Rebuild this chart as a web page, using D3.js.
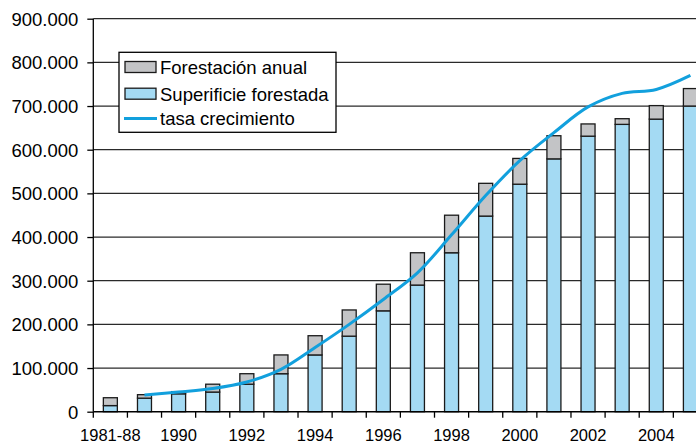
<!DOCTYPE html>
<html><head><meta charset="utf-8">
<script src="https://cdn.jsdelivr.net/npm/d3@7"></script>
<style>body{margin:0;background:#fff}svg{display:block}text{font-family:"Liberation Sans",Arial,sans-serif;fill:#000}</style>
</head><body>
<script>
const categories = ["1981-88","1989","1990","1991","1992","1993","1994","1995","1996","1997","1998","1999","2000","2001","2002","2003","2004","2005"];
const superficie = [14000,31000,41000,45000,63000,87000,130000,173000,231000,290000,364000,448000,521000,579000,631000,658000,670000,700000];
const forestacion = [18000,8000,5000,18000,24000,43000,44000,60000,61000,74000,86000,75000,59000,53000,28000,13000,31000,40000];
const tasa = [null,38000,45000,53000,68000,97000,147000,200000,257000,318000,405000,495000,575000,639000,698000,729000,738000,770000];
const yTicks = [0,100000,200000,300000,400000,500000,600000,700000,800000,900000];
const xLabels = ["1981-88","1990","1992","1994","1996","1998","2000","2002","2004"];

(function(){
const W=696,H=444;
const mLeft=93.3, mBottom=411.7, mTop=18.7, step=34.12;
const svg=d3.select("body").append("svg").attr("width",W).attr("height",H);
const x=d3.scaleBand().domain(categories).range([mLeft,mLeft+step*categories.length]).padding(0);
const y=d3.scaleLinear().domain([0,900000]).range([mBottom,mTop]);
const fmt=v=>v===0?"0":d3.format(",")(v).replace(/,/g,".");

// gridlines
svg.append("g").selectAll("line").data(yTicks.filter(d=>d>0)).join("line")
  .attr("x1",mLeft).attr("x2",W).attr("y1",d=>y(d)).attr("y2",d=>y(d))
  .attr("stroke","#2a2a2a").attr("stroke-width",1.3);

// y axis
const ya=svg.append("g").attr("transform",`translate(${mLeft},0)`)
  .call(d3.axisLeft(y).tickValues(yTicks).tickSize(6).tickPadding(9).tickFormat(fmt));
ya.select(".domain").remove();
ya.selectAll(".tick line").attr("stroke","#000").attr("stroke-width",1.3);
ya.selectAll("text").style("font-size","18.5px").attr("fill","#000").attr("dy","0.35em");

// bars
const bw=14;
const bars=svg.append("g");
bars.selectAll("rect.s").data(categories).join("rect").attr("class","s")
  .attr("x",(d)=>x(d)+(x.bandwidth()-bw)/2).attr("width",bw)
  .attr("y",(d,i)=>y(superficie[i])).attr("height",(d,i)=>y(0)-y(superficie[i]))
  .attr("fill","#a4daf3").attr("stroke","#1a1a1a").attr("stroke-width",1.3);
bars.selectAll("rect.f").data(categories).join("rect").attr("class","f")
  .attr("x",(d)=>x(d)+(x.bandwidth()-bw)/2).attr("width",bw)
  .attr("y",(d,i)=>y(superficie[i]+forestacion[i])).attr("height",(d,i)=>y(superficie[i])-y(superficie[i]+forestacion[i]))
  .attr("fill","#c3c4c6").attr("stroke","#1a1a1a").attr("stroke-width",1.3);

// line
const line=d3.line().defined(d=>d.v!==null).x(d=>x(d.c)+x.bandwidth()/2).y(d=>y(d.v)).curve(d3.curveCatmullRom.alpha(0.5));
svg.append("path").datum(categories.map((c,i)=>({c,v:tasa[i]})))
  .attr("d",line).attr("fill","none").attr("stroke","#12a0dd").attr("stroke-width",3);

// y axis line
svg.append("line").attr("x1",mLeft).attr("x2",mLeft).attr("y1",mTop).attr("y2",mBottom).attr("stroke","#000").attr("stroke-width",1.3);

// x axis
svg.append("line").attr("x1",mLeft).attr("x2",W).attr("y1",mBottom).attr("y2",mBottom).attr("stroke","#000").attr("stroke-width",1.5);
svg.append("g").selectAll("line").data(categories).join("line")
  .attr("x1",d=>x(d)).attr("x2",d=>x(d)).attr("y1",mBottom).attr("y2",mBottom+6)
  .attr("stroke","#000").attr("stroke-width",1.3);
svg.append("g").selectAll("text").data(xLabels).join("text")
  .attr("x",d=>x(d)+x.bandwidth()/2).attr("y",440.5)
  .attr("text-anchor","middle").style("font-size","16.5px").text(d=>d);

// legend
const lg=svg.append("g");
lg.append("rect").attr("x",119).attr("y",52.3).attr("width",217).attr("height",80)
  .attr("fill","#fff").attr("stroke","#000").attr("stroke-width",1.3);
const items=[{t:"Forestación anual",type:"rect",fill:"#c3c4c6",y:67},{t:"Superificie forestada",type:"rect",fill:"#a4daf3",y:93.7},{t:"tasa crecimiento",type:"line",y:118.5}];
items.forEach(it=>{
  if(it.type==="rect"){
    lg.append("rect").attr("x",125).attr("y",it.y-5.5).attr("width",31).attr("height",11)
      .attr("fill",it.fill).attr("stroke","#1a1a1a").attr("stroke-width",1.3);
  } else {
    lg.append("line").attr("x1",124).attr("x2",157).attr("y1",it.y).attr("y2",it.y)
      .attr("stroke","#12a0dd").attr("stroke-width",3);
  }
  lg.append("text").attr("x",160).attr("y",it.y+6.8).style("font-size","18.5px").text(it.t);
});
})();
</script>
</body></html>
